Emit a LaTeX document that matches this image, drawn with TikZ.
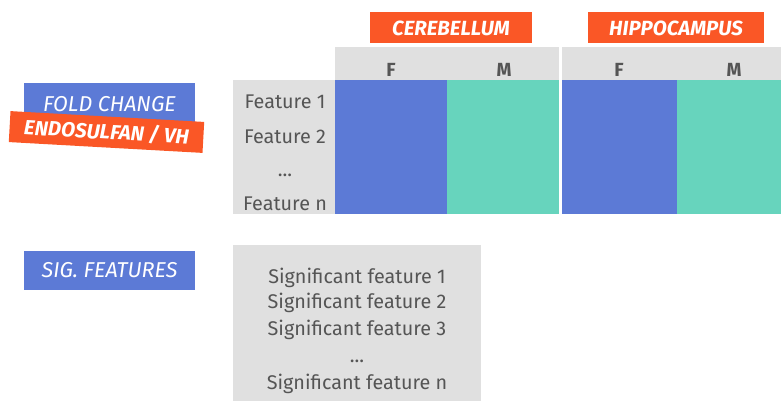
\documentclass[tikz,border=0pt]{standalone}
\usepackage{fontspec}
\setmainfont{Fira Sans}
\usetikzlibrary{positioning}
\definecolor{fcblue}{RGB}{92,122,214}
\definecolor{fcteal}{RGB}{103,212,189}
\definecolor{fcorange}{RGB}{250,87,38}
\definecolor{fcgray}{RGB}{224,224,224}
\definecolor{fctext}{RGB}{85,85,85}
\tikzset{
  tagbox/.style={fill=fcorange, text=white, font=\fontsize{20.5}{20.5}\selectfont\bfseries\itshape, inner sep=0pt},
  labbox/.style={fill=fcblue, text=white, font=\fontsize{21.5}{21.5}\selectfont\itshape, inner sep=0pt},
  feat/.style={text=fctext, font=\fontsize{19.8}{19.8}\selectfont, inner sep=0pt, anchor=base},
  sex/.style={text=fctext, font=\fontsize{19}{19}\selectfont\bfseries, inner sep=0pt}
}
\begin{document}
\begin{tikzpicture}[x=1pt,y=-1pt]
			\useasboundingbox (0,0) rectangle (781,401);
			% grey backgrounds
			\fill[fcgray] (335,47) rectangle (781,80);
			\fill[fcgray] (233,80) rectangle (335,214);
			\fill[fcgray] (233,245) rectangle (481,401);
			% heat map columns
			\fill[fcblue] (335,80) rectangle (447,214);
			\fill[fcteal] (447,80) rectangle (559,214);
			\fill[fcblue] (562,80) rectangle (677,214);
			\fill[fcteal] (677,80) rectangle (781,214);
			\fill[white] (559,47) rectangle (562,214);
			% region tags
			\node[tagbox, minimum width=162pt, minimum height=31pt] (Cer) at (451,28) {CEREBELLUM};
			\node[tagbox, minimum width=176pt, minimum height=31pt] (Hip) at (676,28) {HIPPOCAMPUS};
			\node[sex] (CerF) at (391,70) {F};
			\node[sex] (CerM) at (504,70) {M};
			\node[sex] (HipF) at (619,70) {F};
			\node[sex] (HipM) at (734,70) {M};
			% feature labels
			\node[feat] (F1) at (285,109) {Feature 1};
			\node[feat] (F2) at (285,143) {Feature 2};
			\node[feat] (Fd) at (285,176) {...};
			\node[feat] (Fn) at (285,210) {Feature n};
			% left labels
			\node[labbox, minimum width=171pt, minimum height=42pt] (FC) at (109.5,104) {FOLD CHANGE};
			\node[tagbox, minimum width=194pt, minimum height=31pt, rotate=-3.2] (ES) at (106.5,132) {ENDOSULFAN / VH};
			\node[labbox, minimum width=171pt, minimum height=39pt] (SF) at (109.5,270.5) {SIG. FEATURES};
			% significant features
			\node[feat] (S1) at (357,283) {Significant feature 1};
			\node[feat] (S2) at (357,308) {Significant feature 2};
			\node[feat] (S3) at (357,335) {Significant feature 3};
			\node[feat] (Sd) at (357,362) {...};
			\node[feat] (Sn) at (357,389) {Significant feature n};
		\end{tikzpicture}
\end{document}
